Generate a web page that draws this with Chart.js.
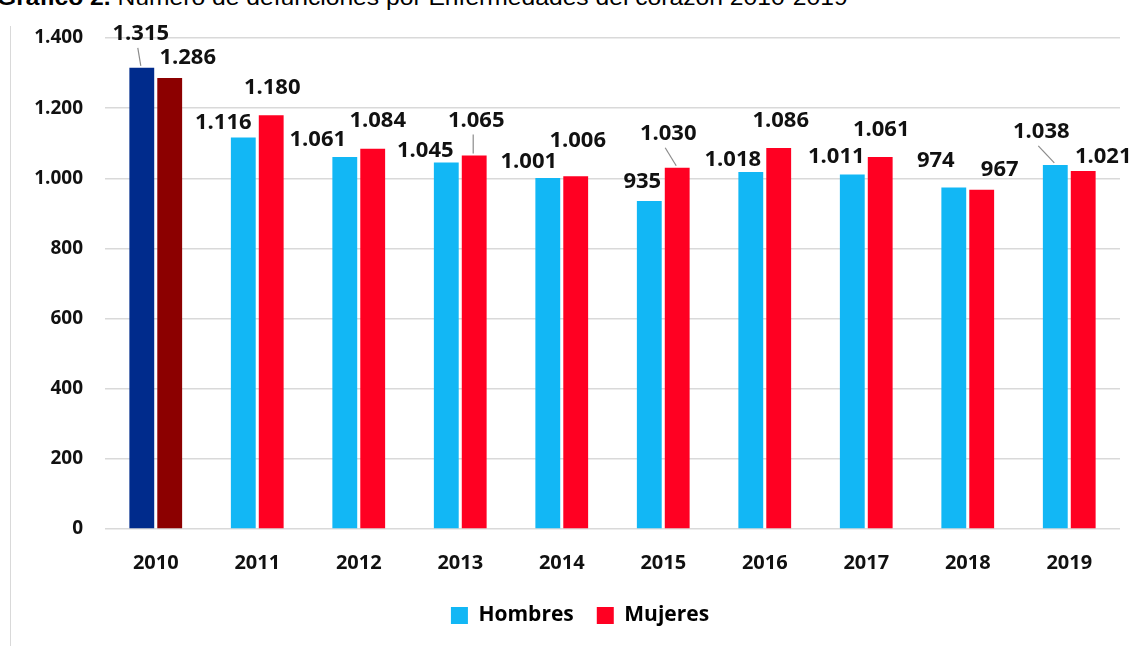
<!DOCTYPE html>
<html>
<head>
<meta charset="utf-8">
<script src="https://cdn.jsdelivr.net/npm/chart.js@4.4.1/dist/chart.umd.min.js"></script>
<style>
  html, body { margin: 0; padding: 0; background: #fff; overflow: hidden; }
  #wrap { position: relative; width: 1133px; height: 646px; }
  #title {
    position: absolute; left: -3px; top: -15px; white-space: nowrap;
    font-family: "Liberation Sans", Arial, sans-serif; font-size: 22px; color: #000;
    transform: scaleX(1.12); transform-origin: 0 0;
  }
  #frame { position: absolute; left: 10px; top: 26px; width: 1px; height: 620px; background: #d9d9d9; }
  #box { position: absolute; left: 0; top: 0; width: 1133px; height: 646px; }
</style>
</head>
<body>
<div id="wrap">
  <div id="title"><b>Gráfico 2.</b> Número de defunciones por Enfermedades del corazón 2010-2019</div>
  <div id="frame"></div>
  <div id="box"><canvas id="chart"></canvas></div>
</div>
<script>
const years = ["2010", "2011", "2012", "2013", "2014", "2015", "2016", "2017", "2018", "2019"];
const hombres = [1315, 1116, 1061, 1045, 1001, 935, 1018, 1011, 974, 1038];
const mujeres = [1286, 1180, 1084, 1065, 1006, 1030, 1086, 1061, 967, 1021];
const yTicks = [0, 200, 400, 600, 800, 1000, 1200, 1400];

// colores: el primer año va en tono oscuro
const hombresColors = years.map((y, i) => i === 0 ? "#002b8c" : "#12b7f5");
const mujeresColors = years.map((y, i) => i === 0 ? "#8c0000" : "#ff0022");

// desplazamiento de cada etiqueta respecto a la punta de su barra (como en el original)
const hombresLabelPos = [[-1, -34], [-20, -15], [-27, -17], [-21, -12], [-19, -16], [-7, -19], [-18, -12], [-16, -18], [-18, -27], [-14, -33]];
const mujeresLabelPos = [[18, -20], [1, -27], [5, -28], [2, -35], [2, -35], [-9, -34], [2, -27], [1, -27], [18, -20], [20, -14]];
const hombresLeader = [true, false, false, false, false, false, false, false, false, true];
const mujeresLeader = [false, false, false, true, false, true, false, false, false, false];

const fmt = v => v.toString().replace(/\B(?=(\d{3})+(?!\d))/g, ".");
const FONT = "'Open Sans', 'DejaVu Sans', sans-serif";

const labelPlugin = {
  id: "barLabels",
  afterLayout(chart) {
    // la leyenda del original no está centrada en el lienzo, va algo a la derecha
    chart.legend.left += 20;
    chart.legend.right += 20;
  },
  afterDatasetsDraw(chart) {
    const ctx = chart.ctx;
    const sets = [[hombresLabelPos, hombresLeader], [mujeresLabelPos, mujeresLeader]];
    ctx.save();
    ctx.font = "bold 22px " + FONT;
    ctx.textAlign = "center";
    ctx.textBaseline = "middle";
    chart.data.datasets.forEach((ds, di) => {
      const meta = chart.getDatasetMeta(di);
      meta.data.forEach((bar, i) => {
        const [dx, dy] = sets[di][0][i];
        const lx = bar.x + dx, ly = bar.y + dy;
        if (sets[di][1][i]) {
          ctx.strokeStyle = "#8c8c8c";
          ctx.lineWidth = 1.2;
          ctx.beginPath();
          ctx.moveTo(lx - 3, ly + 14);
          ctx.lineTo(bar.x - 1, bar.y - 2);
          ctx.stroke();
        }
        ctx.fillStyle = "#111";
        ctx.fillText(fmt(ds.data[i]), lx, ly);
      });
    });
    ctx.restore();
  }
};

new Chart(document.getElementById("chart"), {
  type: "bar",
  data: {
    labels: years,
    datasets: [
      { label: "Hombres", data: hombres, backgroundColor: hombresColors, categoryPercentage: 0.55, barPercentage: 0.89 },
      { label: "Mujeres", data: mujeres, backgroundColor: mujeresColors, categoryPercentage: 0.55, barPercentage: 0.89 }
    ]
  },
  options: {
    responsive: true,
    maintainAspectRatio: false,
    animation: false,
    layout: { padding: { top: 38, right: 13, bottom: 10, left: 0 } },
    plugins: {
      tooltip: { enabled: false },
      legend: {
        position: "bottom",
        labels: {
          font: { family: FONT, size: 21, weight: "bold" },
          color: "#111",
          boxWidth: 17,
          boxHeight: 17,
          padding: 23,
          generateLabels: chart => [
            { text: "Hombres", fillStyle: "#12b7f5", strokeStyle: "#12b7f5", lineWidth: 0, datasetIndex: 0 },
            { text: "Mujeres", fillStyle: "#ff0022", strokeStyle: "#ff0022", lineWidth: 0, datasetIndex: 1 }
          ]
        }
      }
    },
    scales: {
      x: {
        grid: { display: false, drawTicks: false },
        border: { display: false },
        ticks: { color: "#111", font: { family: FONT, size: 20, weight: "bold" }, padding: 22 },
        afterFit: s => { s.height = 53; }
      },
      y: {
        min: 0,
        max: 1400,
        afterBuildTicks: s => { s.ticks = yTicks.map(v => ({ value: v })); },
        grid: { color: "#d9d9d9", lineWidth: 1.5, drawTicks: false },
        border: { display: false },
        ticks: { color: "#111", font: { family: FONT, size: 19, weight: "bold" }, padding: 22, callback: v => fmt(v) },
        afterFit: s => { s.width = 105; }
      }
    }
  },
  plugins: [labelPlugin]
});
</script>
</body>
</html>
